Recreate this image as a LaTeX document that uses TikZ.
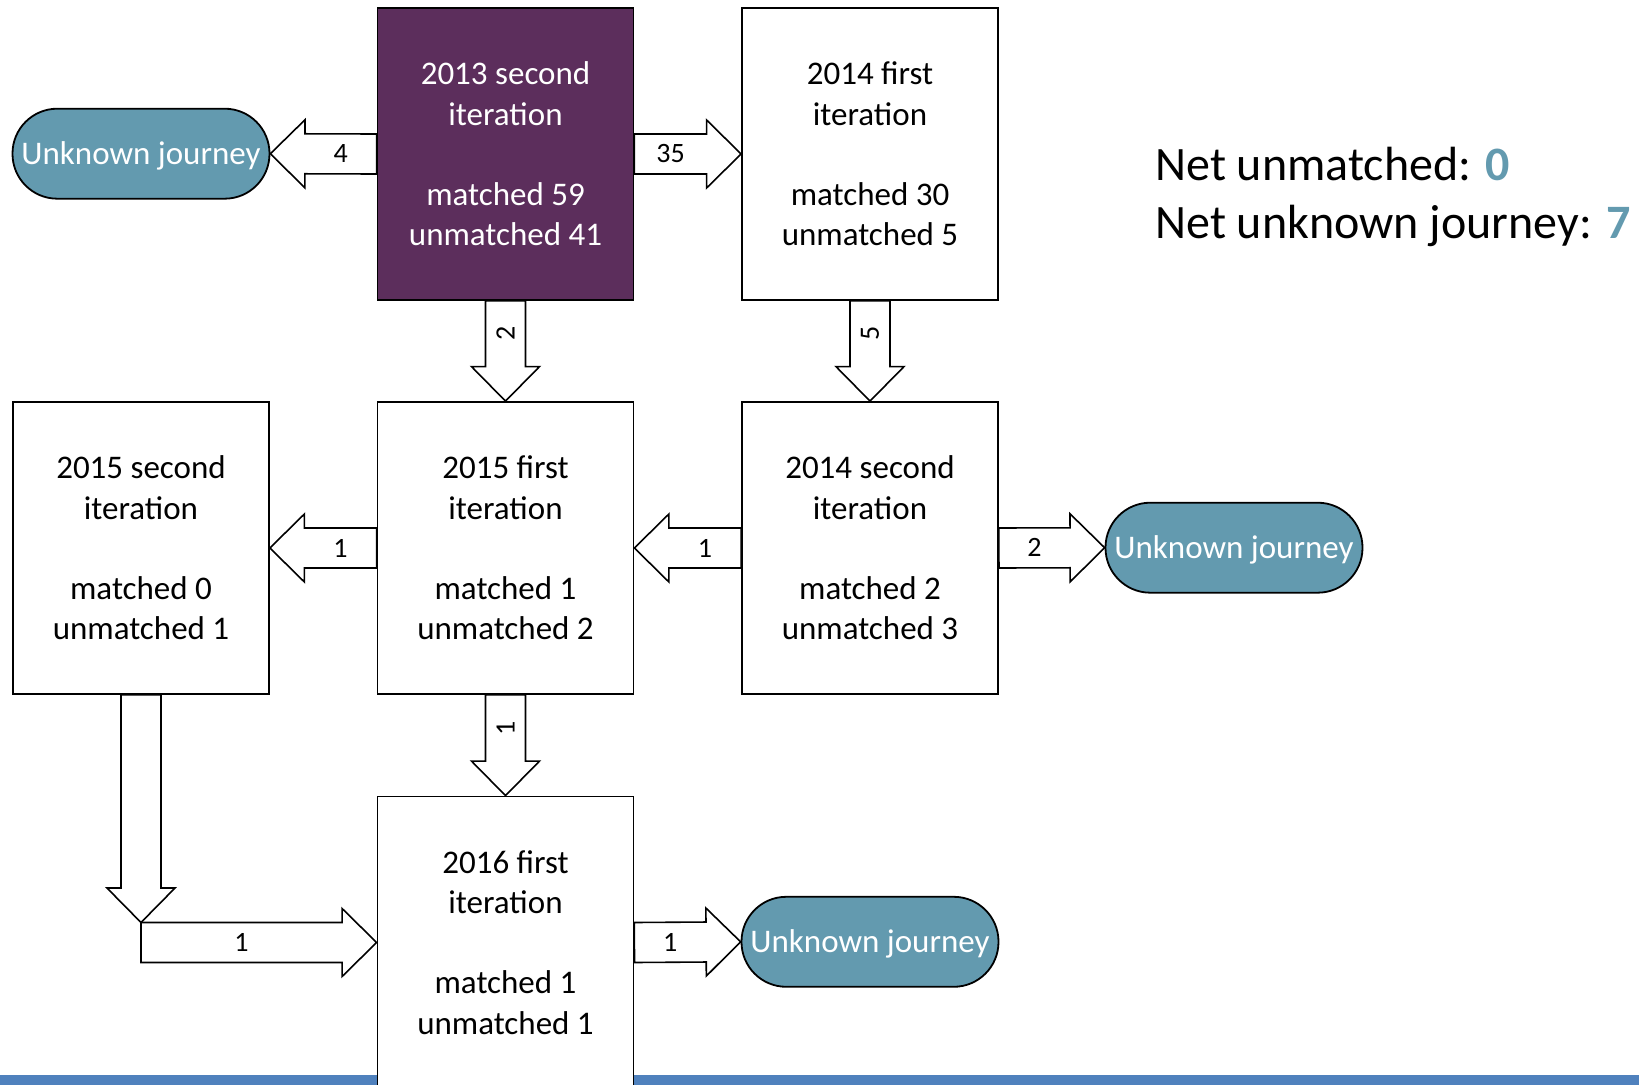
\documentclass[tikz,border=0pt]{standalone}
\usepackage{fontspec}
\setmainfont{Carlito}
\usetikzlibrary{calc}
\definecolor{stagepurple}{RGB}{92,46,92}
\definecolor{unknownteal}{RGB}{99,154,175}
\definecolor{barblue}{RGB}{79,129,189}
% block arrow: [label options] {from} {to} {label}
\newcommand\blockflow[4][]{%
  \coordinate (q) at ($(#3)!17.25pt!(#2)$);
  \draw [flowarrow] ($(#2)!10pt!90:(#3)$) -- ($(q)!10pt!-90:(#2)$)
    -- ($(q)!17pt!-90:(#2)$) -- (#3) -- ($(q)!17pt!90:(#2)$)
    -- ($(q)!10pt!90:(#2)$) -- ($(#2)!10pt!-90:(#3)$) -- cycle;
  \node [flowlabel,#1] at ($(#2)!0.5!(q)$) {#4};
}
\begin{document}
\begin{tikzpicture}
    [
    x=0.5pt,y=-0.5pt,
    stage/.style={draw,line width=0.9pt,fill=white,minimum width=128pt,minimum height=146pt,inner sep=0pt,align=center,font=\fontsize{16.5}{20.1}\selectfont},
    firststage/.style={stage,fill=stagepurple,text=white},
    unknown/.style={draw,line width=0.9pt,rounded corners=22.4pt,fill=unknownteal,text=white,minimum width=128.5pt,minimum height=45pt,inner sep=0pt,text height=13pt,text depth=2.2pt,font=\fontsize{16.5}{20}\selectfont},
    flowarrow/.style={draw,line width=0.8pt,fill=white,line join=miter},
    flowlabel/.style={inner sep=0pt,font=\fontsize{14}{16}\selectfont},
    ]
    \clip (0,0) rectangle (1639,1085);
    \fill [barblue] (0,1074.6) rectangle (1639,1085);
    % stages
    \node (s13b) at (505.5,154) [firststage] {2013 second\\iteration\\[20.1pt]matched 59\\unmatched 41};
    \node (s14a) at (870,154) [stage] {2014 first\\iteration\\[20.1pt]matched 30\\unmatched 5};
    \node (s15b) at (141,548) [stage] {2015 second\\iteration\\[20.1pt]matched 0\\unmatched 1};
    \node (s15a) at (505.5,548) [stage] {2015 first\\iteration\\[20.1pt]matched 1\\unmatched 2};
    \node (s14b) at (870,548) [stage] {2014 second\\iteration\\[20.1pt]matched 2\\unmatched 3};
    \node (s16a) at (505.5,942.5) [stage] {2016 first\\iteration\\[20.1pt]matched 1\\unmatched 1};
    % unknown journeys
    \node (u1) at (141,153.7) [unknown] {Unknown journey};
    \node (u2) at (1234,547.7) [unknown] {Unknown journey};
    \node (u3) at (870,941.8) [unknown] {Unknown journey};
    \node (net) at (1155,197) [anchor=west,align=left,inner sep=0pt,font=\fontsize{24}{28.75}\selectfont]
      {Net unmatched: \textbf{\color{unknownteal}0}\\Net unknown journey: \textbf{\color{unknownteal}7}};
    % flows
    \coordinate (bend) at (s15b.south |- s16a.west);
    \coordinate (bendtop) at ($(bend)+(0,-20)$);
    \blockflow{s13b.west}{u1.east}{4}
    \blockflow{s13b.east}{s14a.west}{35}
    \blockflow[rotate=90]{s13b.south}{s15a.north}{2}
    \blockflow[rotate=90]{s14a.south}{s14b.north}{5}
    \blockflow{s15a.west}{s15b.east}{1}
    \blockflow{s14b.west}{s15a.east}{1}
    \blockflow{s14b.east}{u2.west}{2}
    \blockflow[rotate=90]{s15a.south}{s16a.north}{1}
    \blockflow{s15b.south}{bendtop}{}
    \blockflow{bend}{s16a.west}{1}
    \blockflow{s16a.east}{u3.west}{1}
  \end{tikzpicture}
\end{document}
